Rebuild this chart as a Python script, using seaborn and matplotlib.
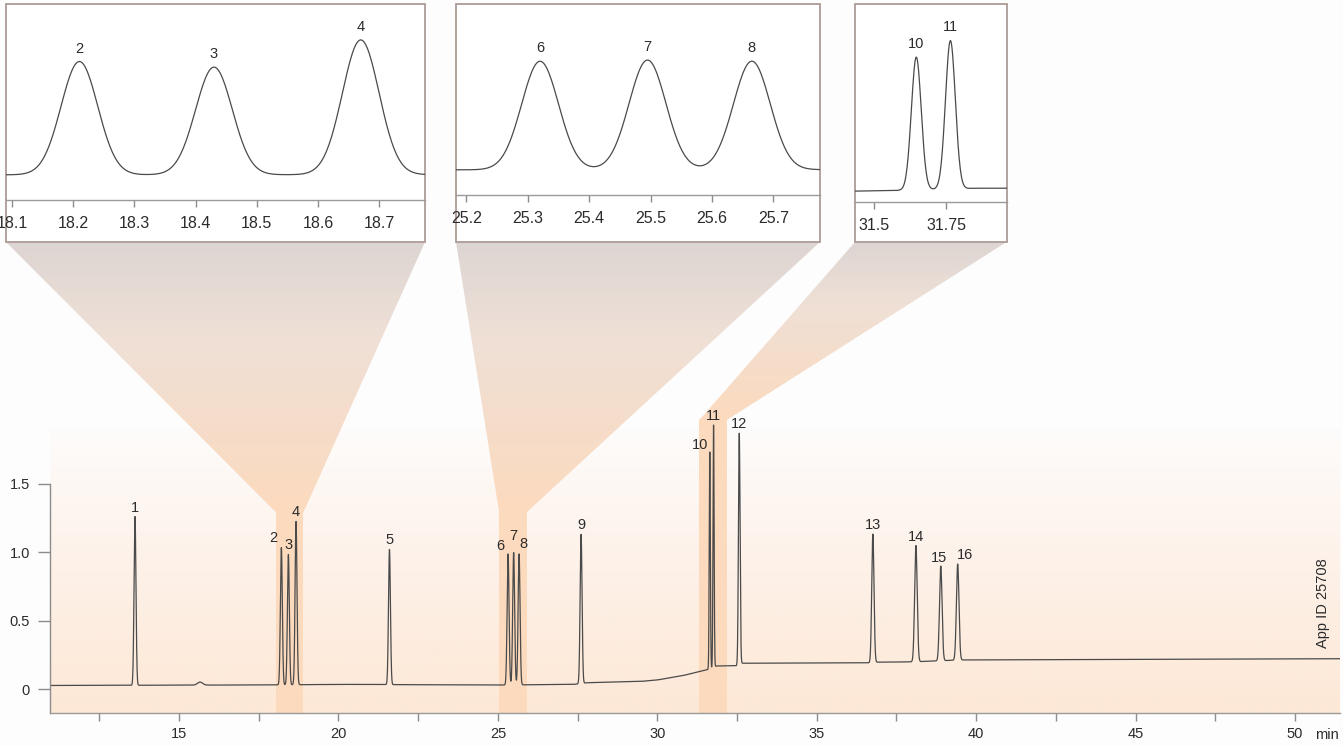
import numpy as np
import pandas as pd
import matplotlib
matplotlib.use("Agg")
import matplotlib.pyplot as plt
from matplotlib.colors import LinearSegmentedColormap
from matplotlib.patches import Polygon, Rectangle
import seaborn as sns

# --- data ---
peak_no = ["1", "2", "3", "4", "5", "6", "7", "8", "9", "10", "11", "12", "13", "14", "15", "16"]
peak_rt = [13.62, 18.21, 18.43, 18.67, 21.60, 25.32, 25.495, 25.665, 27.61,
           31.646, 31.764, 32.57, 36.76, 38.11, 38.89, 39.42]          # min
peak_height = [1.23, 1.00, 0.95, 1.19, 0.985, 0.955, 0.965, 0.955, 1.087,
               1.58, 1.765, 1.686, 0.937, 0.847, 0.69, 0.70]          # above baseline
peak_sigma = [0.03, 0.03, 0.03, 0.03, 0.03, 0.03, 0.03, 0.03, 0.03,
              0.017, 0.017, 0.025, 0.035, 0.04, 0.04, 0.04]            # min

# small unlabelled bump near 15.7 min
bump_rt, bump_height, bump_sigma = 15.66, 0.022, 0.08

# baseline drift
base_t = [10.95, 18.0, 20.0, 25.0, 27.4, 27.8, 29.5, 30.0, 30.8, 31.6, 31.85,
          32.5, 32.65, 36.7, 36.9, 38.0, 39.5, 51.42]
base_y = [0.028, 0.032, 0.036, 0.031, 0.036, 0.048, 0.058, 0.068, 0.100, 0.145, 0.170,
          0.172, 0.190, 0.193, 0.198, 0.200, 0.214, 0.223]

x_ticks = [12.5, 15, 17.5, 20, 22.5, 25, 27.5, 30, 32.5, 35, 37.5, 40, 42.5, 45, 47.5, 50]
x_ticklabels = ["", "15", "", "20", "", "25", "", "30", "", "35", "", "40", "", "45", "", "50"]
y_ticks = [0, 0.5, 1.0, 1.5]
y_ticklabels = ["0", "0.5", "1.0", "1.5"]

# zoomed windows
zoom_lo = [18.04, 25.04, 31.32]
zoom_hi = [18.90, 25.90, 32.18]
inset_xlim = [(18.09, 18.775), (25.183, 25.776), (31.434, 31.958)]
inset_ylim = [(-0.19, 1.54), (-0.19, 1.49), (0.01, 2.36)]
inset_ticks = [[18.1, 18.2, 18.3, 18.4, 18.5, 18.6, 18.7],
               [25.2, 25.3, 25.4, 25.5, 25.6, 25.7],
               [31.5, 31.75]]
inset_peaks = [["2", "3", "4"], ["6", "7", "8"], ["10", "11"]]

# --- build trace ---
t = np.arange(10.95, 51.42, 0.002)
signal = np.interp(t, base_t, base_y)
signal += bump_height * np.exp(-0.5 * ((t - bump_rt) / bump_sigma) ** 2)
for rt, h, s in zip(peak_rt, peak_height, peak_sigma):
    signal += h * np.exp(-0.5 * ((t - rt) / s) ** 2)
df = pd.DataFrame({"t": t, "signal": signal})
peak_top = {n: float(np.interp(rt, t, signal)) for n, rt in zip(peak_no, peak_rt)}
peak_at = dict(zip(peak_no, peak_rt))

sns.set_theme(style="white")
plt.rcParams["font.family"] = ["Liberation Sans", "DejaVu Sans"]

W, H = 1343, 746
TXT = "#2b2b2b"
LINE = "#4a4a4a"
FS = 10.5


def frac(x0, y0, x1, y1):
    return [x0 / W, 1 - y1 / H, (x1 - x0) / W, (y1 - y0) / H]


fig = plt.figure(figsize=(W / 100, H / 100), dpi=100, facecolor="#fdfdfd")

# background layer in pixel coordinates
bg = fig.add_axes([0, 0, 1, 1], zorder=0)
bg.set_axis_off()
bg.set_autoscale_on(False)
bg.set_xlim(0, W)
bg.set_ylim(H, 0)

ax = fig.add_axes(frac(50, 400, 1340, 713), zorder=1)
ax.patch.set_visible(False)
ax.set_xlim(10.954, 51.41)
ax.set_ylim(-0.1727, 2.109)


def to_px(x, y):
    dx, dy = ax.transData.transform((x, y))
    return dx, H - dy


def vgrad(x0, x1, y0, y1, colors, z, clip=None):
    cmap = LinearSegmentedColormap.from_list("g", colors)
    im = bg.imshow(np.linspace(0, 1, 256)[:, None], cmap=cmap, aspect="auto",
                   extent=(x0, x1, y1, y0), interpolation="bicubic", zorder=z)
    if clip is not None:
        im.set_clip_path(clip)
    return im


# plot area gradient
vgrad(50, 1340, 428, 713, ["#fefcfb", "#fdf1e8", "#fde8d6"], z=1)

# inset frames (pixel boxes) and their axis line heights
frames = [(6, 425), (456, 820), (855, 1006.5)]
axis_line = [200, 195, 201.7]
band_top = [1.294, 1.294, 1.967]
y_bottom = ax.get_ylim()[0]

for i in range(3):
    bx0, by = to_px(zoom_lo[i], band_top[i])
    bx1, _ = to_px(zoom_hi[i], band_top[i])
    _, ybot = to_px(zoom_lo[i], y_bottom)
    bg.add_patch(Rectangle((bx0, by), bx1 - bx0, ybot - by, facecolor="#fcdabe",
                           edgecolor="none", zorder=2))
    fx0, fx1 = frames[i]
    poly = Polygon([(fx0, 242), (fx1, 242), (bx1, by + 0.5), (bx0, by + 0.5)],
                   closed=True, facecolor="none", edgecolor="none", transform=bg.transData)
    bg.add_patch(poly)
    vgrad(min(fx0, bx0), max(fx1, bx1), 242, by + 1,
          [(0, "#ddd5d2"), (0.35, "#efe0d6"), (1, "#fcdabe")], z=2, clip=poly)
    bg.add_patch(Rectangle((fx0, 4), fx1 - fx0, 238, facecolor="white",
                           edgecolor="#ad9b96", linewidth=1.3, zorder=5))

# --- main chromatogram ---
sns.lineplot(data=df, x="t", y="signal", ax=ax, color=LINE, linewidth=0.9,
             estimator=None, sort=False)
ax.set_xlabel("")
ax.set_ylabel("")
ax.set_xticks(x_ticks)
ax.set_xticklabels(x_ticklabels)
ax.set_yticks(y_ticks)
ax.set_yticklabels(y_ticklabels)
ax.tick_params(axis="x", direction="out", length=5.8, width=1, color="#8c8c8c",
               labelcolor=TXT, labelsize=FS, pad=4.3, bottom=True)
ax.tick_params(axis="y", direction="out", length=8.6, width=1, color="#8c8c8c",
               labelcolor=TXT, labelsize=FS, pad=5.8, left=True)
for s in ["top", "right"]:
    ax.spines[s].set_visible(False)
ax.spines["left"].set_bounds(y_bottom, 1.5)
ax.spines["left"].set_color("#8c8c8c")
ax.spines["bottom"].set_color("#9a9a9a")
ax.spines["left"].set_linewidth(1)
ax.spines["bottom"].set_linewidth(1)

label_shift = {"2": (-8, 10), "6": (-8, 8), "7": (0, 17), "8": (4, 10),
               "10": (-10, 7), "15": (-2, 8), "16": (7, 9)}
for n in peak_no:
    dx, dy = label_shift.get(n, (0, 9))
    ax.annotate(n, xy=(peak_at[n], peak_top[n]), xytext=(dx, dy),
                textcoords="offset pixels", ha="center", va="center",
                fontsize=FS, color=TXT, annotation_clip=False)

ax.annotate("min", xy=(1, 0), xycoords="axes fraction", xytext=(-13, -22),
            textcoords="offset pixels", ha="center", va="center", fontsize=FS, color=TXT)
ax.text(0.9868, 0.208, "App ID 25708", transform=ax.transAxes, rotation=90,
        ha="center", va="bottom", fontsize=FS, color=TXT)

# --- insets ---
for i in range(3):
    fx0, fx1 = frames[i]
    axi = fig.add_axes(frac(fx0, 4, fx1, axis_line[i]), zorder=2)
    axi.patch.set_visible(False)
    lo, hi = inset_xlim[i]
    sub = df[(df.t >= lo - 0.01) & (df.t <= hi + 0.01)]
    sns.lineplot(data=sub, x="t", y="signal", ax=axi, color=LINE, linewidth=0.9,
                 estimator=None, sort=False)
    axi.set_xlim(lo, hi)
    axi.set_ylim(*inset_ylim[i])
    axi.set_xlabel("")
    axi.set_ylabel("")
    axi.set_yticks([])
    axi.set_xticks(inset_ticks[i])
    axi.set_xticklabels([f"{v:g}" for v in inset_ticks[i]])
    axi.tick_params(axis="x", direction="out", length=5, width=1, color="#8c8c8c",
                    labelcolor=TXT, labelsize=11.5, pad=6.5, bottom=True)
    for s in ["top", "right", "left"]:
        axi.spines[s].set_visible(False)
    axi.spines["bottom"].set_color("#9a9a9a")
    axi.spines["bottom"].set_linewidth(1)
    for n in inset_peaks[i]:
        axi.annotate(n, xy=(peak_at[n], peak_top[n]), xytext=(0, 13),
                     textcoords="offset pixels", ha="center", va="center",
                     fontsize=FS, color=TXT)

fig.savefig("out.png", dpi=100, facecolor=fig.get_facecolor())
